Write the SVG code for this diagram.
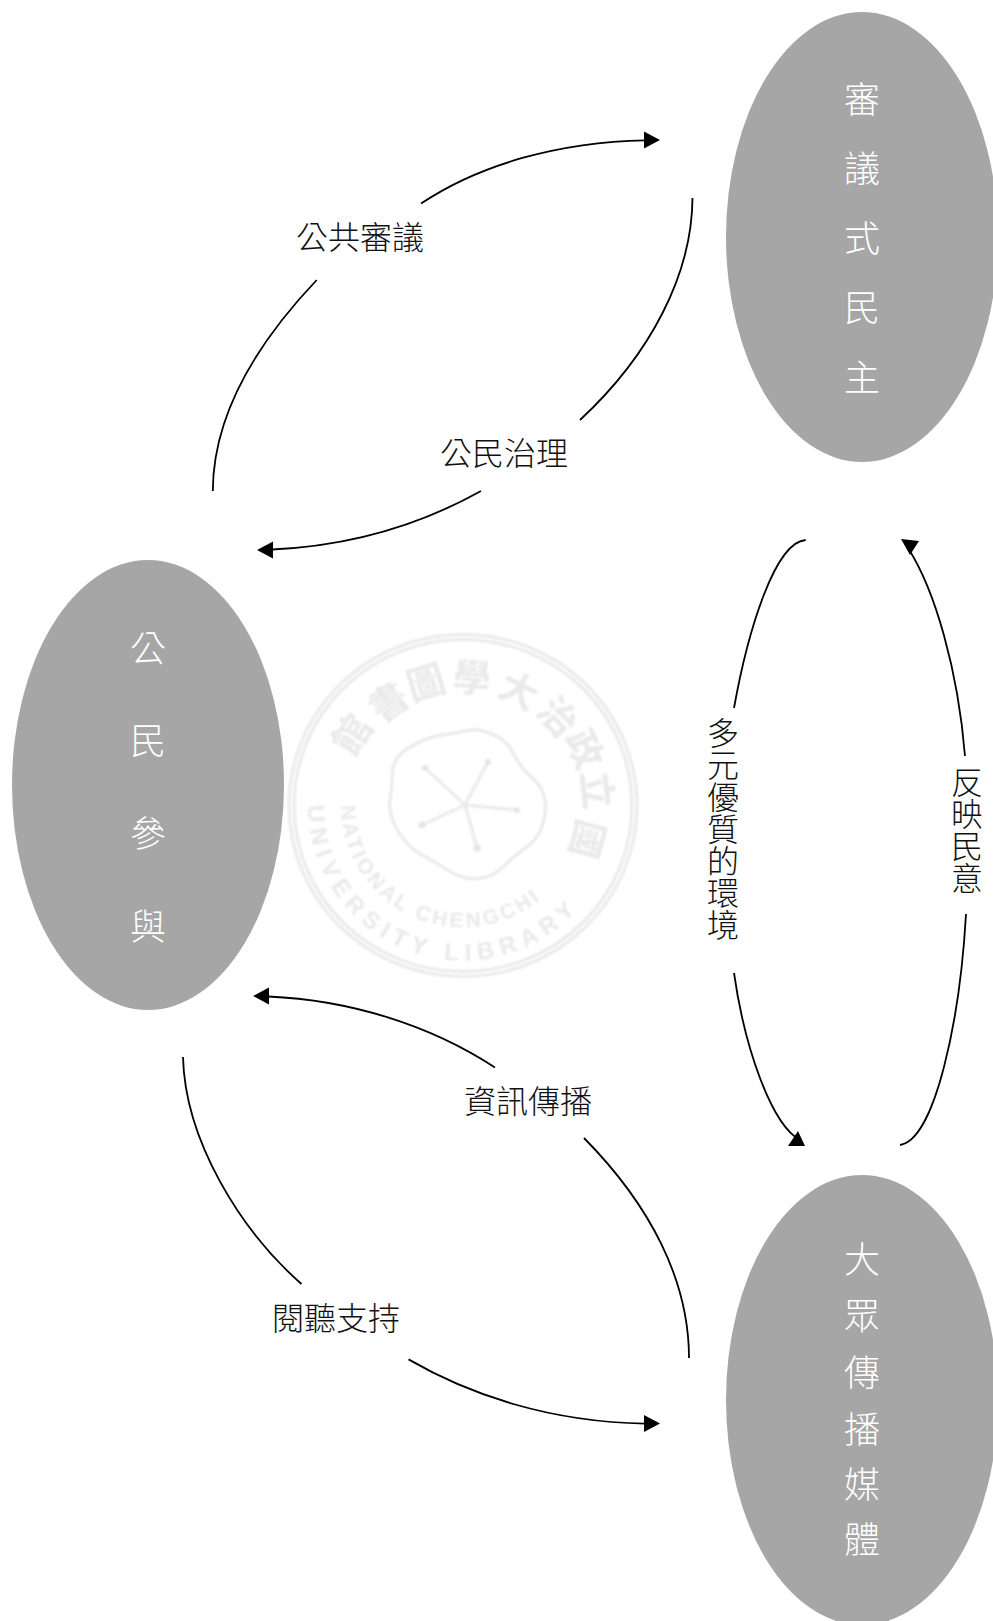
<svg xmlns="http://www.w3.org/2000/svg" width="993" height="1621" viewBox="0 0 993 1621">
<style>
text{font-family:"Noto Sans CJK TC","Noto Sans CJK SC",sans-serif;dominant-baseline:central;text-anchor:middle;font-weight:300}
.n{fill:#a6a6a6}
.nt{fill:#fff;font-size:36px}
.lb{fill:#111;font-size:32px}
.v{writing-mode:vertical-rl;text-orientation:upright;dominant-baseline:auto;text-anchor:middle}
.c{fill:none;stroke:#000;stroke-width:1.8}
.h{fill:#000}
.s{fill:none;stroke:#e9e9e9;stroke-width:3}
.st{fill:#e9e9e9;font-size:38px;font-weight:700}
.se{fill:#e9e9e9;font-family:"Liberation Sans",sans-serif;font-weight:700;text-anchor:start;dominant-baseline:auto}
</style>
<defs>
<filter id="soft" x="-5%" y="-5%" width="110%" height="110%"><feGaussianBlur stdDeviation="1.2"/></filter>
<path id="arcO" d="M308 805.5A155 155 0 0 0 618 805.5"/>
<path id="arcI" d="M341 805.5A122 122 0 0 0 585 805.5"/>
</defs>
<rect width="993" height="1621" fill="#fff"/>
<g id="watermark" filter="url(#soft)">
<ellipse class="s" cx="463" cy="805.5" rx="174" ry="171"/>
<ellipse class="s" cx="463" cy="805.5" rx="169" ry="166" stroke-width="1.5"/>
<path class="s" d="M392.5 772Q393 757 410 747Q427 737 442 735Q457 733 467 730.5Q477 728 492 734Q507 740 513.5 753.5Q520 767 531.5 777Q543 787 545 800Q547 813 542 826.5Q537 840 525 848.5Q513 857 503 867Q493 877 478 878.5Q463 880 450 871.5Q437 863 422 855Q407 847 397.5 830Q388 813 390 800Q392 787 392.5 772Z"/>
<path class="s" d="M465 805L425 768M465 805L488 762M465 805L517 810M465 805L477 848M465 805L422 825" stroke-width="2"/>
<g fill="#e4e4e4"><circle cx="425" cy="768" r="3"/><circle cx="488" cy="762" r="3"/><circle cx="517" cy="810" r="3"/><circle cx="477" cy="848" r="3.5"/><circle cx="422" cy="825" r="3.5"/></g>
<text class="st" x="350" y="733" transform="rotate(-57 350 733)">館</text>
<text class="st" x="387" y="700" transform="rotate(-36 387 700)">書</text>
<text class="st" x="425" y="680" transform="rotate(-17 425 680)">圖</text>
<text class="st" x="472" y="675" transform="rotate(4 472 675)">學</text>
<text class="st" x="520" y="688" transform="rotate(26 520 688)">大</text>
<text class="st" x="560" y="715" transform="rotate(47 560 715)">治</text>
<text class="st" x="587" y="748" transform="rotate(65 587 748)">政</text>
<text class="st" x="600" y="790" transform="rotate(84 600 790)">立</text>
<text class="st" x="590" y="840" transform="rotate(105 590 840)">國</text>
<text class="se" font-size="24"><textPath href="#arcO" textLength="370" lengthAdjust="spacing">UNIVERSITY LIBRARY</textPath></text>
<text class="se" font-size="21"><textPath href="#arcI" textLength="275" lengthAdjust="spacing">NATIONAL CHENGCHI</textPath></text>
</g>
<g id="connectors">
<path class="c" d="M421 203.6C480 164 560 142 645 140.3"/>
<path class="c" d="M316.7 280C255 345 213 415 212.8 491"/>
<path class="c" d="M692.5 198C692 275 650 355 580 420"/>
<path class="c" d="M481 491C420 525 350 546 272 549.5"/>
<path class="c" d="M805.7 540C775 542 748 630 734 708"/>
<path class="c" d="M734 973C745 1050 772 1125 800 1140"/>
<path class="c" d="M900 1145C935 1140 960 1020 966 914"/>
<path class="c" d="M965 756C958 670 935 590 908 548"/>
<path class="c" d="M495 1067.5C430 1025 350 1000 268 996.5"/>
<path class="c" d="M584 1138C650 1205 689 1280 689 1358"/>
<path class="c" d="M183 1057C185 1140 240 1230 301.5 1284"/>
<path class="c" d="M408.5 1359.4C470 1395 550 1422 645 1423.6"/>
<polygon class="h" points="660,140 644,131.5 644,148.5"/>
<polygon class="h" points="257,550 273,541.5 273,558.5"/>
<polygon class="h" points="253,996 269,987.5 269,1004.5"/>
<polygon class="h" points="660,1423.6 644,1415 644,1432"/>
<polygon class="h" points="805,1146 788,1146 798,1131"/>
<polygon class="h" points="901,539 919,541 910,555"/>
<text class="lb" x="360" y="235">公共審議</text>
<text class="lb" x="504" y="451">公民治理</text>
<text class="lb" x="528" y="1099">資訊傳播</text>
<text class="lb" x="336" y="1316">閱聽支持</text>
<text class="lb v" x="723" y="829">多元優質的環境</text>
<text class="lb v" x="967" y="829.5">反映民意</text>
</g>
<g id="node-deliberative">
<ellipse class="n" cx="862" cy="237" rx="136" ry="225"/>
<text class="nt" x="862" y="96.5">審</text>
<text class="nt" x="862" y="166">議</text>
<text class="nt" x="862" y="235.5">式</text>
<text class="nt" x="862" y="305">民</text>
<text class="nt" x="862" y="375">主</text>
</g>
<g id="node-participation">
<ellipse class="n" cx="148" cy="785" rx="136" ry="225"/>
<text class="nt" x="148" y="646">公</text>
<text class="nt" x="148" y="737.5">民</text>
<text class="nt" x="148" y="831">參</text>
<text class="nt" x="148" y="924">與</text>
</g>
<g id="node-media">
<ellipse class="n" cx="862" cy="1400" rx="136" ry="225"/>
<text class="nt" x="862" y="1257">大</text>
<text class="nt" x="862" y="1313">眾</text>
<text class="nt" x="862" y="1370">傳</text>
<text class="nt" x="862" y="1427">播</text>
<text class="nt" x="862" y="1482">媒</text>
<text class="nt" x="862" y="1537">體</text>
</g>
</svg>
